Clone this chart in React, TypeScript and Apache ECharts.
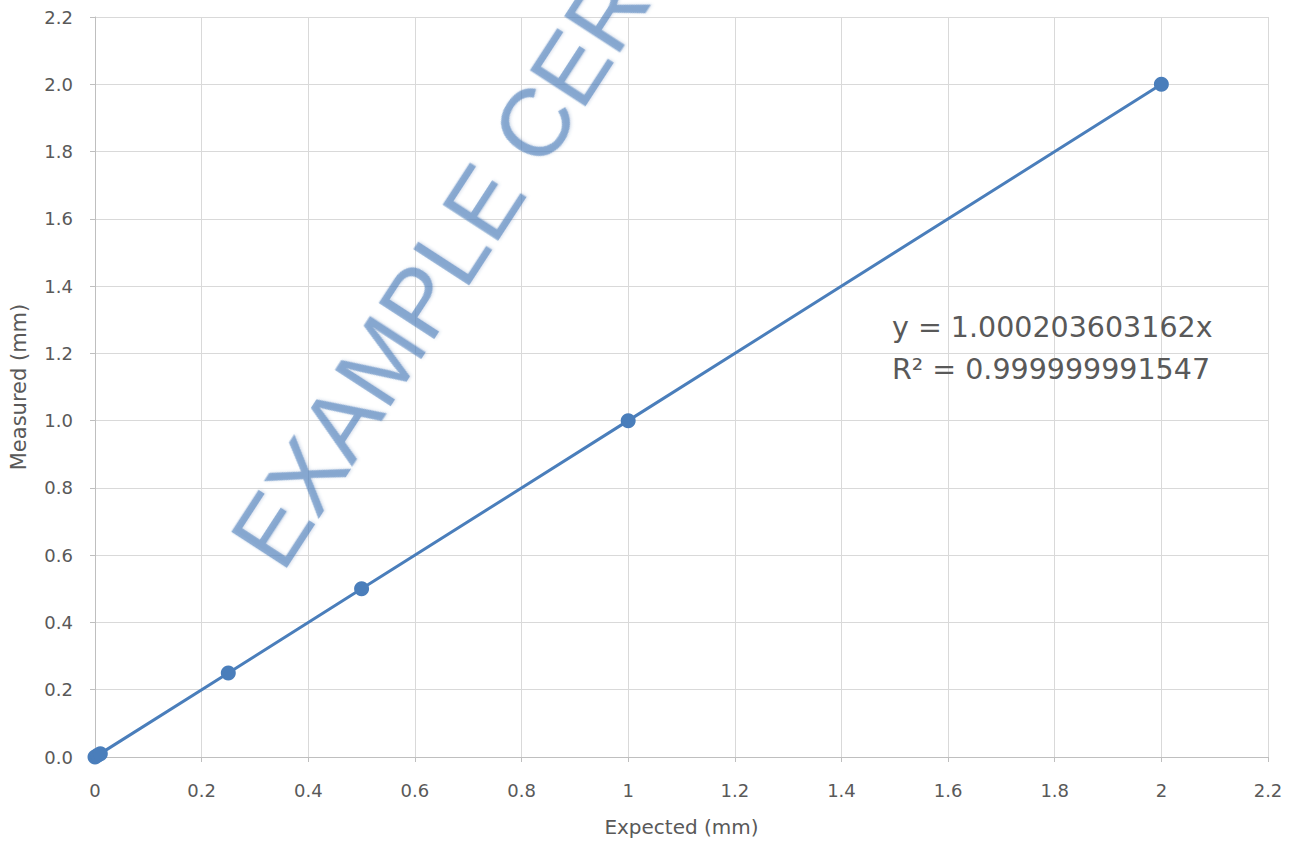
import React, { useEffect, useRef } from "react";
import * as echarts from "echarts";

const expectedMm = [0, 0.005, 0.01, 0.25, 0.5, 1, 2];
const measuredMm = [0, 0.005, 0.01, 0.25, 0.5, 1, 2];
const equationLines = ["y = 1.000203603162x", "R² = 0.999999991547"];
const watermarkText = "EXAMPLE CERTIFICATE";
const xAxisTitle = "Expected (mm)";
const yAxisTitle = "Measured (mm)";

const FONT = "'DejaVu Sans', sans-serif";
const TEXT = "#595959";

export default function App() {
  const ref = useRef<HTMLDivElement>(null);
  useEffect(() => {
    if (!ref.current) return;
    const chart = echarts.init(ref.current, undefined, { renderer: "svg" });
    const points = expectedMm.map((x, i) => [x, measuredMm[i]]);
    const rot = (57 * Math.PI) / 180;
    chart.setOption({
      animation: false,
      backgroundColor: "#ffffff",
      grid: { left: 95, right: 28, top: 17, bottom: 85, containLabel: false },
      xAxis: {
        type: "value",
        min: 0,
        max: 2.2,
        interval: 0.2,
        name: xAxisTitle,
        nameLocation: "middle",
        nameGap: 60,
        nameTextStyle: { fontFamily: FONT, fontSize: 20, color: TEXT },
        axisLine: { show: true, lineStyle: { color: "#BFBFBF", width: 1 } },
        axisTick: { show: true, length: 5, lineStyle: { color: "#BFBFBF" } },
        axisLabel: {
          margin: 24,
          fontFamily: FONT,
          fontSize: 18,
          color: TEXT,
          formatter: (v: number) => {
            const r = Math.round(v * 10) / 10;
            return Number.isInteger(r) ? String(r) : r.toFixed(1);
          },
        },
        splitLine: { show: true, lineStyle: { color: "#D9D9D9", width: 1 } },
      },
      yAxis: {
        type: "value",
        min: 0,
        max: 2.2,
        interval: 0.2,
        name: yAxisTitle,
        nameLocation: "middle",
        nameGap: 66,
        nameTextStyle: { fontFamily: FONT, fontSize: 21, color: TEXT },
        axisLine: { show: true, lineStyle: { color: "#BFBFBF", width: 1 } },
        axisTick: { show: true, length: 5, lineStyle: { color: "#BFBFBF" } },
        axisLabel: {
          margin: 22,
          fontFamily: FONT,
          fontSize: 18,
          color: TEXT,
          formatter: (v: number) => (Math.round(v * 10) / 10).toFixed(1),
        },
        splitLine: { show: true, lineStyle: { color: "#D9D9D9", width: 1 } },
      },
      series: [
        {
          type: "line",
          data: points,
          symbol: "circle",
          symbolSize: 15,
          showSymbol: true,
          lineStyle: { color: "#4A7EBB", width: 3 },
          itemStyle: { color: "#4A7EBB" },
          z: 3,
        },
      ],
      graphic: [
        {
          type: "text",
          x: 254,
          y: 556,
          rotation: rot,
          z: 10,
          silent: true,
          style: {
            text: watermarkText,
            font: "96px 'Liberation Sans', Arial, sans-serif",
            fill: "rgba(79,129,189,0.6)",
            align: "left",
            verticalAlign: "middle",
            textShadowColor: "rgba(60,100,160,0.35)",
            textShadowBlur: 3,
            textShadowOffsetX: 1,
            textShadowOffsetY: 1,
          },
        },
        {
          type: "text",
          x: 892,
          y: 327,
          z: 10,
          style: {
            text: equationLines[0],
            font: `28.5px ${FONT}`,
            fill: TEXT,
            align: "left",
            verticalAlign: "middle",
          },
        },
        {
          type: "text",
          x: 892,
          y: 369,
          z: 10,
          style: {
            text: equationLines[1],
            font: `28.5px ${FONT}`,
            fill: TEXT,
            align: "left",
            verticalAlign: "middle",
          },
        },
      ],
    });
    return () => chart.dispose();
  }, []);
  return <div ref={ref} style={{ width: 1296, height: 842, position: "absolute", left: 0, top: 0 }} />;
}
